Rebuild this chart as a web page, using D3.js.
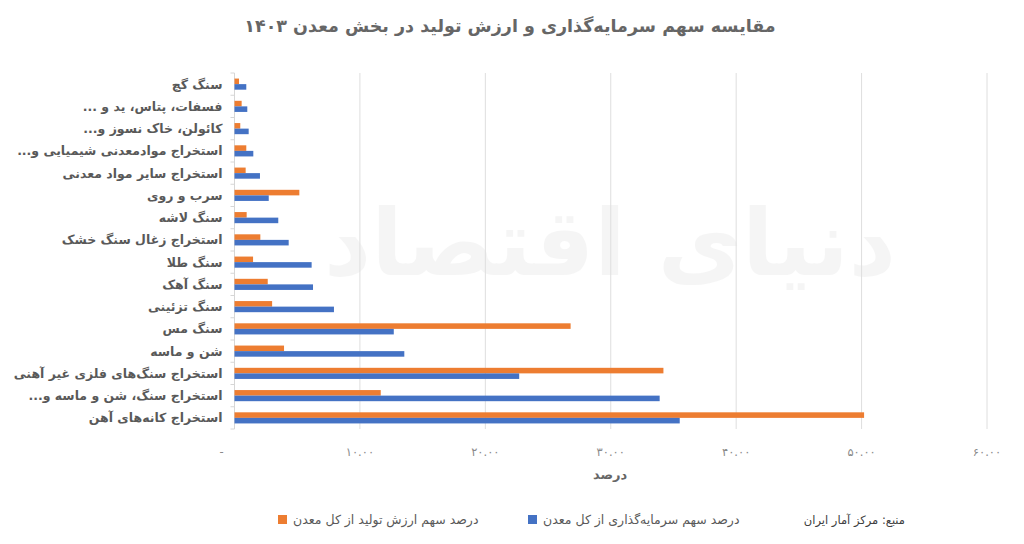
<!DOCTYPE html>
<html>
<head>
<meta charset="utf-8">
<script src="https://cdn.jsdelivr.net/npm/d3@7"></script>
<style>
  body { margin: 0; background: #fff; }
  text { font-family: "DejaVu Sans", sans-serif; }
</style>
</head>
<body>
<svg id="chart"></svg>
<script>
//////////////// data ////////////////
const categories = [
  "سنگ گچ",
  "فسفات، پتاس، ید و ...",
  "کائولن، خاک نسوز و...",
  "استخراج موادمعدنی شیمیایی و...",
  "استخراج سایر مواد معدنی",
  "سرب و روی",
  "سنگ لاشه",
  "استخراج زغال سنگ خشک",
  "سنگ طلا",
  "سنگ آهک",
  "سنگ تزئینی",
  "سنگ مس",
  "شن و ماسه",
  "استخراج سنگ‌های فلزی غیر آهنی",
  "استخراج سنگ، شن و ماسه و...",
  "استخراج کانه‌های آهن"
];

// درصد سهم ارزش تولید از کل معدن
const productionShare = [0.36, 0.57, 0.46, 0.94, 0.89, 5.17, 0.97, 2.06, 1.48, 2.65, 3.0, 26.8, 3.95, 34.2, 11.66, 50.2];
// درصد سهم سرمایه‌گذاری از کل معدن
const investmentShare = [0.94, 1.02, 1.13, 1.5, 2.03, 2.73, 3.49, 4.32, 6.15, 6.26, 7.93, 12.7, 13.54, 22.7, 33.9, 35.5];

const xTicks = [0, 10, 20, 30, 40, 50, 60];
const xTickLabels = ["-", "۱۰.۰۰", "۲۰.۰۰", "۳۰.۰۰", "۴۰.۰۰", "۵۰.۰۰", "۶۰.۰۰"];

const series = [
  {key: "prod", name: "درصد سهم ارزش تولید از کل معدن", values: productionShare, color: "#ED7D31"},
  {key: "inv", name: "درصد سهم سرمایه‌گذاری از کل معدن", values: investmentShare, color: "#4472C4"}
];

const titleText = "مقایسه سهم سرمایه‌گذاری و ارزش تولید در بخش معدن ۱۴۰۳";
const axisTitle = "درصد";
const sourceText = "منبع: مرکز آمار ایران";
const watermarkText = "دنیای اقتصاد";

//////////////// layout ////////////////
const W = 1024, H = 544;
const margin = {top: 73, right: 37, bottom: 115, left: 234.5};

const svg = d3.select("#chart").attr("width", W).attr("height", H);

const x = d3.scaleLinear().domain([0, 60]).range([margin.left, W - margin.right]);
const y = d3.scaleBand().domain(categories).range([margin.top, H - margin.bottom]).paddingInner(0.5).paddingOuter(0.25);
const ySub = d3.scaleBand().domain(series.map(s => s.key)).range([0, y.bandwidth()]);

// watermark (faint logo text behind the plot)
svg.append("text")
  .attr("x", 610).attr("y", 275)
  .attr("text-anchor", "middle")
  .attr("direction", "rtl")
  .attr("font-size", 92)
  .attr("font-weight", "bold")
  .attr("fill", "#000")
  .attr("opacity", 0.035)
  .text(watermarkText);

// title
svg.append("text")
  .attr("x", 510).attr("y", 32)
  .attr("text-anchor", "middle")
  .attr("direction", "rtl")
  .attr("font-size", 17.5)
  .attr("font-weight", "bold")
  .attr("fill", "#666")
  .text(titleText);

// gridlines
svg.append("g").selectAll("line")
  .data(xTicks.slice(1))
  .join("line")
  .attr("x1", d => x(d)).attr("x2", d => x(d))
  .attr("y1", margin.top).attr("y2", H - margin.bottom)
  .attr("stroke", "#dedede").attr("stroke-width", 1);

// y axis line + ticks
const yAxis = svg.append("g");
yAxis.append("line")
  .attr("x1", x(0)).attr("x2", x(0))
  .attr("y1", margin.top).attr("y2", H - margin.bottom)
  .attr("stroke", "#d6d6d6");
const bounds = categories.map(c => y(c) - y.step() * y.paddingInner() / 2);
bounds.push(H - margin.bottom);
yAxis.selectAll("line.tick")
  .data(bounds)
  .join("line").attr("class", "tick")
  .attr("x1", x(0) - 4).attr("x2", x(0))
  .attr("y1", d => d).attr("y2", d => d)
  .attr("stroke", "#d6d6d6");

// category labels
svg.append("g").selectAll("text")
  .data(categories)
  .join("text")
  .attr("x", margin.left - 12)
  .attr("y", d => y(d) + y.bandwidth() / 2)
  .attr("dy", "0.35em")
  .attr("direction", "rtl")
  .attr("text-anchor", "start")
  .attr("font-size", 12.5)
  .attr("font-weight", "bold")
  .attr("fill", "#595959")
  .text(d => d);

// bars
series.forEach(s => {
  svg.append("g").selectAll("rect")
    .data(categories)
    .join("rect")
    .attr("x", x(0))
    .attr("y", d => y(d) + ySub(s.key))
    .attr("width", (d, i) => x(s.values[i]) - x(0))
    .attr("height", ySub.bandwidth())
    .attr("fill", s.color);
});

// x tick labels
svg.append("g").selectAll("text")
  .data(xTicks)
  .join("text")
  .attr("x", d => x(d) - (d === 0 ? 13 : 0))
  .attr("y", 456)
  .attr("text-anchor", "middle")
  .attr("font-size", 11.5)
  .attr("fill", "#8a8a8a")
  .text((d, i) => xTickLabels[i]);

// axis title
svg.append("text")
  .attr("x", 610).attr("y", 479)
  .attr("text-anchor", "middle")
  .attr("direction", "rtl")
  .attr("font-size", 13)
  .attr("font-weight", "bold")
  .attr("fill", "#666")
  .text(axisTitle);

// legend
const legend = svg.append("g");
const legendItems = [
  {s: series[0], sx: 278},
  {s: series[1], sx: 528}
];
legendItems.forEach(it => {
  legend.append("rect")
    .attr("x", it.sx).attr("y", 515)
    .attr("width", 9).attr("height", 9)
    .attr("fill", it.s.color);
  legend.append("text")
    .attr("x", it.sx + 15).attr("y", 520)
    .attr("dy", "0.35em")
    .attr("direction", "rtl")
    .attr("text-anchor", "end")
    .attr("font-size", 12.5)
    .attr("fill", "#595959")
    .text(it.s.name);
});
legend.append("text")
  .attr("x", 905).attr("y", 520)
  .attr("dy", "0.35em")
  .attr("direction", "rtl")
  .attr("text-anchor", "start")
  .attr("font-size", 11.5)
  .attr("fill", "#404040")
  .text(sourceText);
</script>
</body>
</html>
